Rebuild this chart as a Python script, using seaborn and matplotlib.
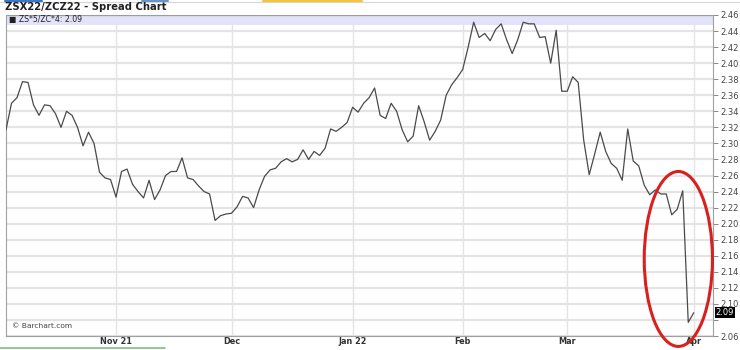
import numpy as np
import pandas as pd
import matplotlib
matplotlib.use("Agg")
import matplotlib.pyplot as plt
import seaborn as sns
from matplotlib.patches import Ellipse, Rectangle
from matplotlib.lines import Line2D

# ---------------- data ----------------
title = "ZSX22/ZCZ22 - Spread Chart"
legend_label = "ZS*5/ZC*4"
source_label = "© Barchart.com"
month_labels = ["Nov 21", "Dec", "Jan 22", "Feb", "Mar", "Apr"]
month_starts = ["2021-11-01", "2021-12-01", "2022-01-03", "2022-02-01", "2022-03-01", "2022-04-01"]
holidays = ["2021-11-25", "2021-12-24", "2022-01-17", "2022-02-21"]
y_ticks = [2.06, 2.08, 2.10, 2.12, 2.14, 2.16, 2.18, 2.20, 2.22, 2.24, 2.26,
           2.28, 2.30, 2.32, 2.34, 2.36, 2.38, 2.40, 2.42, 2.44, 2.46]
spread = [
    2.317, 2.350, 2.357, 2.377, 2.376, 2.348, 2.335, 2.348, 2.347, 2.337,
    2.320, 2.340, 2.335, 2.320, 2.297, 2.314, 2.300, 2.264, 2.257, 2.255,
    2.233, 2.265, 2.268, 2.249, 2.240, 2.232, 2.254, 2.230, 2.242, 2.260,
    2.265, 2.265, 2.282, 2.257, 2.255, 2.247, 2.240, 2.237, 2.204, 2.210,
    2.212, 2.213, 2.221, 2.234, 2.232, 2.220, 2.242, 2.259, 2.267, 2.269,
    2.277, 2.281, 2.277, 2.280, 2.292, 2.280, 2.290, 2.285, 2.294, 2.318,
    2.315, 2.320, 2.326, 2.345, 2.339, 2.350, 2.357, 2.369, 2.335, 2.331,
    2.350, 2.340, 2.317, 2.302, 2.309, 2.347, 2.327, 2.304, 2.315, 2.329,
    2.360, 2.373, 2.382, 2.392, 2.420, 2.451, 2.432, 2.437, 2.428, 2.442,
    2.449, 2.429, 2.412, 2.429, 2.451, 2.449, 2.449, 2.432, 2.433, 2.400,
    2.441, 2.365, 2.365, 2.383, 2.376, 2.304, 2.261, 2.287, 2.314, 2.290,
    2.275, 2.269, 2.254, 2.318, 2.278, 2.272, 2.248, 2.236, 2.242, 2.237,
    2.237, 2.211, 2.218, 2.241, 2.077, 2.089,
]

dates = pd.bdate_range("2021-10-04", "2022-04-01", freq="C", holidays=holidays)[:len(spread)]
df = pd.DataFrame({"date": dates, "pos": np.arange(len(spread)), "spread": spread})

# ---------------- figure ----------------
sns.set_theme(style="white")
plt.rcParams["font.family"] = ["DejaVu Sans"]

fig = plt.figure(figsize=(7.4, 3.5), dpi=100)
ax = fig.add_axes([6 / 740, 1 - 336 / 350, (713 - 6) / 740, (336 - 15) / 350])

grid_c = "#e4e4e4"
# horizontal grid
ax.set_yticks(y_ticks)
ax.set_ylim(2.06, 2.46)
ax.grid(axis="y", color=grid_c, lw=1.6, zorder=0)
# vertical month grid
tick_pos = [int(df.loc[df["date"] == pd.Timestamp(d), "pos"].iloc[0]) for d in month_starts]
ax.set_xticks(tick_pos)
ax.set_xticklabels(month_labels, fontsize=5.9, fontweight="bold", color="#333333")
ax.grid(axis="x", color=grid_c, lw=1.0, zorder=0)
ax.set_xlim(0, 128.5)

# lavender legend strip
ax.add_patch(Rectangle((0, 1 - 9.5 / 321), 1, 9.5 / 321, transform=ax.transAxes,
                       facecolor="#e2e2f8", edgecolor="none", zorder=1))
ax.add_line(Line2D([0, 1], [1, 1], transform=ax.transAxes, color="#9a9aa8", lw=0.9, zorder=2))

sns.lineplot(data=df, x="pos", y="spread", ax=ax, color="#4a4a4a", lw=0.9, zorder=3)
ax.set_xlabel("")
ax.set_ylabel("")

# y axis on the right
ax.yaxis.tick_right()
labels = [f"{v:.2f}" for v in y_ticks]
labels[1] = ""
ax.set_yticklabels(labels, fontsize=6.0, color="#444444")
ax.tick_params(axis="y", which="both", right=True, length=3.5, width=0.7, color="#888888", pad=1.5)
ax.tick_params(axis="x", bottom=False, length=0, pad=0.8)

for side in ["left", "bottom", "right"]:
    ax.spines[side].set_color("#a0a0a0")
    ax.spines[side].set_linewidth(0.8)
ax.spines["top"].set_visible(False)

# last value box
ax.text(1.004, spread[-1], f"{spread[-1]:.2f}", transform=ax.get_yaxis_transform(),
        ha="left", va="center", fontsize=6.0, color="white", clip_on=False,
        bbox=dict(boxstyle="square,pad=0.12", facecolor="black", edgecolor="none"))

# legend text
ax.text(0.004, 1 - 4.8 / 321, f"■ {legend_label}: {spread[-1]:.2f}", transform=ax.transAxes,
        ha="left", va="center", fontsize=5.6, color="#222222", zorder=4)

# source text
ax.text(0.009, 10 / 321, source_label, transform=ax.transAxes, ha="left", va="center",
        fontsize=5.4, color="#444444", zorder=4)

# title
fig.text(5 / 740, 1 - 7.5 / 350, title, ha="left", va="center", fontsize=7.2,
         fontweight="bold", color="#222222")

# red ellipse annotation
ell = Ellipse((122.2, 2.156), width=12.4, height=0.218, facecolor="none",
              edgecolor="#d9201f", lw=2.2, clip_on=False, zorder=5)
ax.add_patch(ell)

# page decoration lines
fig.add_artist(Line2D([0, 1], [1 - 2 / 350, 1 - 2 / 350], color="#d6d6d6", lw=0.8))
fig.add_artist(Line2D([5 / 740, 42 / 740], [1 - 0.8 / 350] * 2, color="#3b78c2", lw=1.5))
fig.add_artist(Line2D([142 / 740, 168 / 740], [1 - 0.8 / 350] * 2, color="#6a94c8", lw=1.5))
fig.add_artist(Line2D([263 / 740, 362 / 740], [1 - 0.8 / 350] * 2, color="#f2c53d", lw=1.5))
fig.add_artist(Line2D([0, 165 / 740], [1 - 348 / 350] * 2, color="#7cc47c", lw=1.2))

fig.savefig("out.png", dpi=100, facecolor="white")
